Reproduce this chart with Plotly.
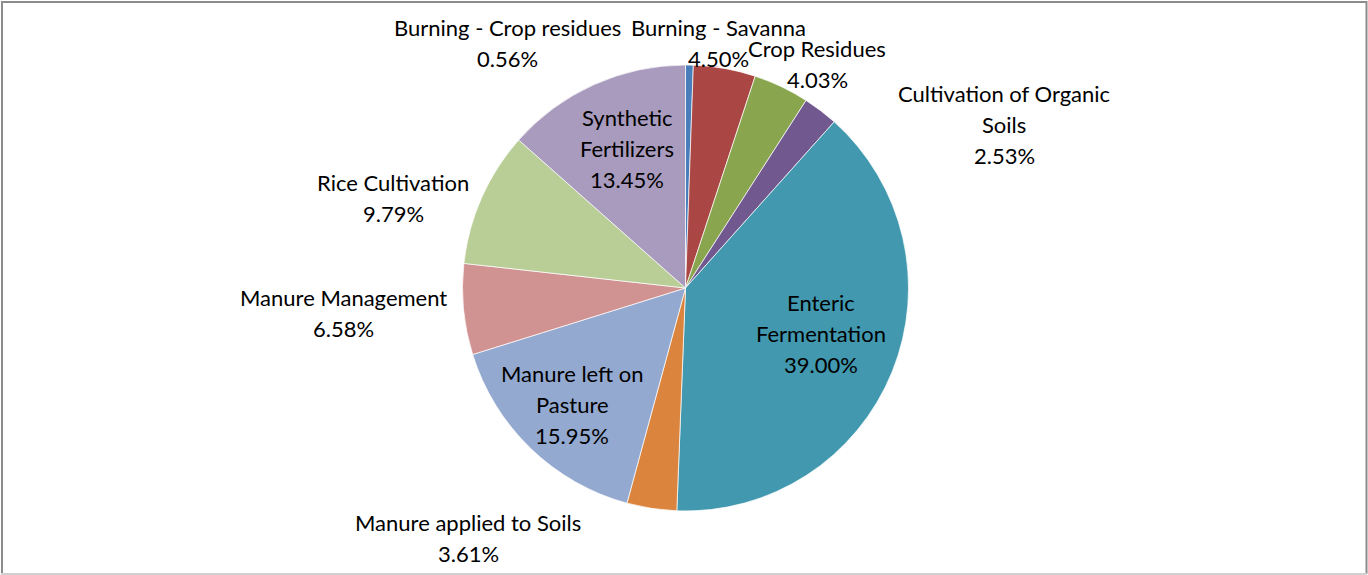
import plotly.graph_objects as go

W, H = 1368, 575

categories = ["Burning - Crop residues", "Burning - Savanna", "Crop Residues",
              "Cultivation of Organic Soils", "Enteric Fermentation",
              "Manure applied to Soils", "Manure left on Pasture",
              "Manure Management", "Rice Cultivation", "Synthetic Fertilizers"]
values = [0.56, 4.50, 4.03, 2.53, 39.00, 3.61, 15.95, 6.58, 9.79, 13.45]
colors = ["#4A7EBB", "#AA4643", "#89A54E", "#71588F", "#4198AF",
          "#DB843D", "#93A9CF", "#D19392", "#B9CD96", "#A99BBD"]

# label text lines (as wrapped in the original) and their placement (px, first line center)
label_lines = [["Burning - Crop residues"], ["Burning - Savanna"], ["Crop Residues"],
               ["Cultivation of Organic", "Soils"], ["Enteric", "Fermentation"],
               ["Manure applied to Soils"], ["Manure left on", "Pasture"],
               ["Manure Management"], ["Rice Cultivation"], ["Synthetic", "Fertilizers"]]
label_pos = [(507, 28), (718, 28), (817, 48), (1004, 93), (821, 302),
             (468, 522), (572, 373), (343, 297), (393, 182), (627, 118)]
LINE = 31

fig = go.Figure(go.Pie(
    labels=categories, values=values, sort=False, direction="clockwise",
    rotation=0, textinfo="none", hoverinfo="label+percent",
    marker=dict(colors=colors, line=dict(color="rgba(255,255,255,0.7)", width=1)),
    domain=dict(x=[462.5 / W, 908.5 / W], y=[1 - 511 / H, 1 - 65 / H]),
    showlegend=False,
))

annotations = []
for lines, v, (cx, cy) in zip(label_lines, values, label_pos):
    all_lines = lines + [f"{v:.2f}%"]
    for i, t in enumerate(all_lines):
        annotations.append(dict(
            x=cx / W, y=1 - (cy + i * LINE) / H, xref="paper", yref="paper",
            text=t, showarrow=False, xanchor="center", yanchor="middle",
            font=dict(family="Lato", size=22, color="#000000"),
        ))

shapes = [
    dict(type="line", xref="paper", yref="paper", x0=2 / W, x1=2 / W, y0=1 - 1 / H, y1=1 - 574 / H,
         line=dict(color="#8c8c8c", width=2)),
    dict(type="line", xref="paper", yref="paper", x0=1 / W, x1=1367 / W, y0=1 - 2 / H, y1=1 - 2 / H,
         line=dict(color="#8c8c8c", width=2)),
    dict(type="line", xref="paper", yref="paper", x0=1366.5 / W, x1=1366.5 / W, y0=1 - 1 / H, y1=1 - 574 / H,
         line=dict(color="#8c8c8c", width=2)),
    dict(type="line", xref="paper", yref="paper", x0=1 / W, x1=1367 / W, y0=1 - 574 / H, y1=1 - 574 / H,
         line=dict(color="#d0d0d0", width=2)),
]

fig.update_layout(
    width=W, height=H, margin=dict(l=0, r=0, t=0, b=0),
    paper_bgcolor="white", plot_bgcolor="white",
    annotations=annotations, shapes=shapes,
)

fig.write_html("out.html", config={"displayModeBar": False},
               post_script="document.body.style.margin='0';")
